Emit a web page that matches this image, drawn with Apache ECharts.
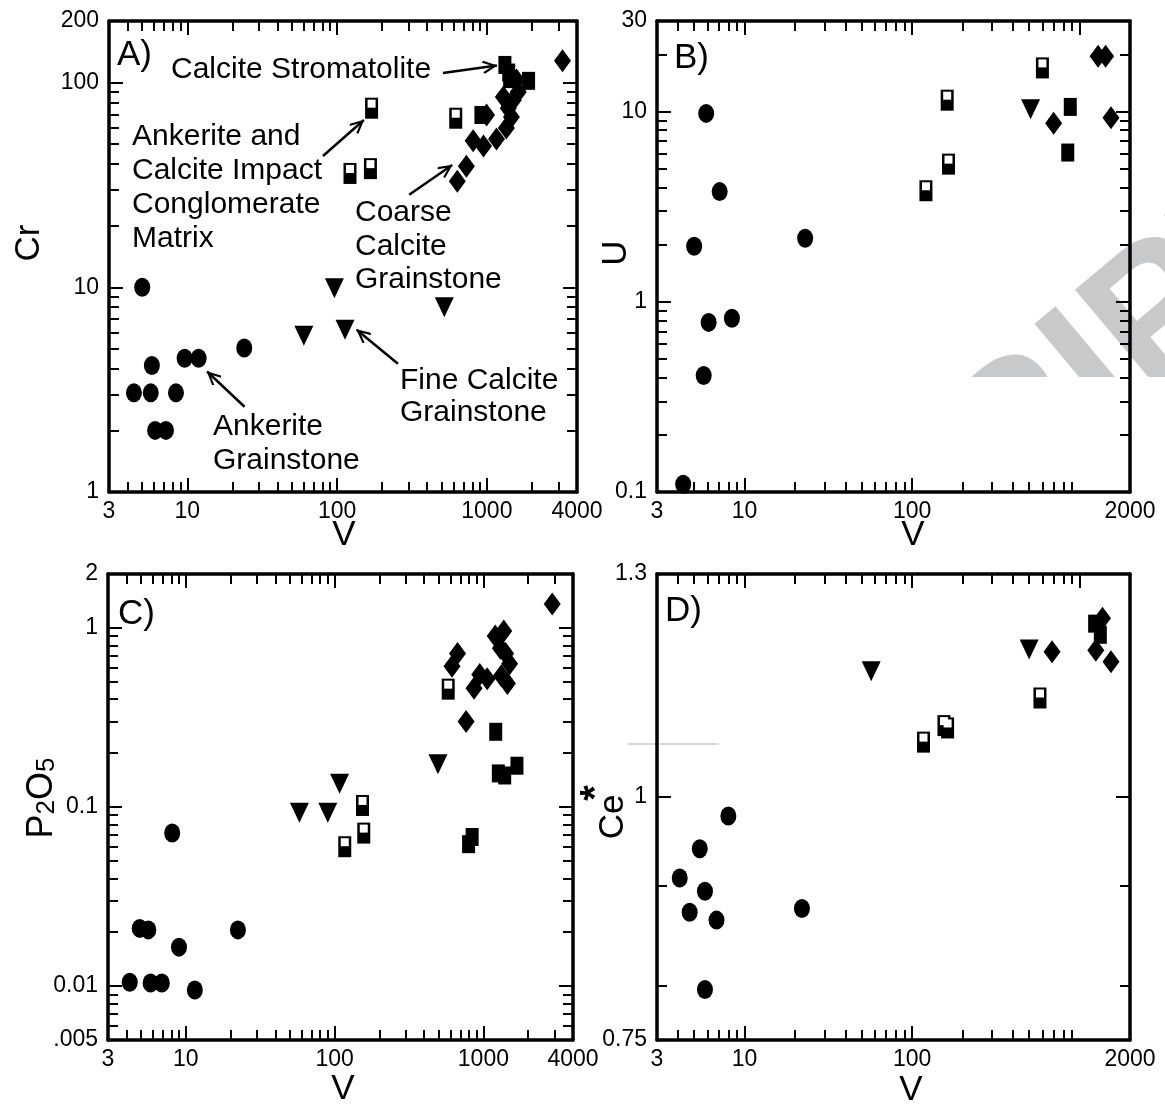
<!DOCTYPE html>
<html>
<head>
<meta charset="utf-8">
<script src="https://cdn.jsdelivr.net/npm/echarts@6.0.0/dist/echarts.min.js"></script>
<style>html,body{margin:0;padding:0;background:#fff}#c{width:1165px;height:1110px}</style>
</head>
<body>
<div id="c"></div>
<script>
// ---------------- DATA ----------------
// Panel A: Cr vs V
const A_ankerite = [[5.0,10],[4.4,3.05],[5.7,3.05],[5.8,4.15],[6.1,2.0],[7.2,2.0],[8.4,3.05],[9.6,4.5],[11.9,4.5],[24,5.05]];
const A_fine     = [[60,5.8],[96,9.9],[113,6.2],[520,8.0]];
const A_impact   = [[170,75],[122,36],[167,38],[620,67]];
const A_strom    = [[1320,122],[1400,112],[1420,104],[1900,102],[913,69.5]];
const A_coarse   = [[635,33],[730,39],[810,52],[950,49],[1160,53],[1350,60],[1460,68],[1390,75],[1500,82],[1290,85],[1620,90],[1580,103],[996,69.5],[3200,128]];
// Panel B: U vs V
const B_ankerite = [[4.3,0.11],[5.0,1.96],[5.7,0.41],[5.9,9.8],[6.1,0.78],[7.1,3.8],[8.4,0.82],[23,2.16]];
const B_fine     = [[510,10.3]];
const B_impact   = [[121,3.84],[162,11.5],[165,5.3],[600,17]];
const B_strom    = [[880,10.6],[850,6.1]];
const B_coarse   = [[700,8.7],[1290,19.6],[1430,19.6],[1540,9.3]];
// Panel C: P2O5 vs V
const C_ankerite = [[4.2,0.0105],[4.9,0.021],[5.6,0.0206],[5.8,0.0104],[6.9,0.0104],[8.1,0.0715],[9.0,0.0165],[11.5,0.0095],[22.4,0.0206]];
const C_fine     = [[58,0.093],[90,0.093],[108,0.135],[495,0.173]];
const C_impact   = [[154,0.102],[157,0.0715],[117,0.06],[580,0.455]];
const C_strom    = [[1210,0.263],[795,0.062],[840,0.068],[1260,0.154],[1390,0.15],[1680,0.17]];
const C_coarse   = [[2900,1.36],[1370,0.96],[1200,0.9],[1300,0.77],[1410,0.72],[1500,0.63],[1320,0.54],[1450,0.49],[1060,0.52],[945,0.55],[865,0.46],[765,0.3],[670,0.72],[615,0.61]];
// Panel D: Ce* vs V
const D_ankerite = [[4.1,0.908],[4.7,0.872],[5.4,0.94],[5.8,0.894],[5.8,0.796],[6.8,0.864],[8.0,0.977],[22,0.876]];
const D_fine     = [[57,1.159],[500,1.189]];
const D_impact   = [[117,1.066],[155,1.087],[163,1.084],[580,1.123]];
const D_strom    = [[1230,1.226],[1330,1.21]];
const D_coarse   = [[1370,1.234],[1250,1.188],[1540,1.172],[685,1.186]];

// Axis ranges, tick labels and tick values
const X_LABELS_4000 = [3,10,100,1000,4000];
const X_LABELS_2000 = [3,10,100,1000,2000];
const X_MAJOR = [10,100,1000];
const X_MINOR_4000 = [4,5,6,7,8,9,20,30,40,50,60,70,80,90,200,300,400,500,600,700,800,900,2000,3000];
const X_MINOR_2000 = [4,5,6,7,8,9,20,30,40,50,60,70,80,90,200,300,400,500,600,700,800,900];
const Y_LABELS_A = [1,10,100,200];
const Y_MAJOR_A = [10,100];
const Y_MINOR_A = [2,3,4,5,6,7,8,9,20,30,40,50,60,70,80,90];
const Y_LABELS_B = [0.1,1,10,30];
const Y_MAJOR_B = [1,10];
const Y_MINOR_B = [0.2,0.3,0.4,0.5,0.6,0.7,0.8,0.9,2,3,4,5,6,7,8,9,20];
const Y_LABELS_C = [0.005,0.01,0.1,1,2];
const Y_MAJOR_C = [0.01,0.1,1];
const Y_MINOR_C = [0.006,0.007,0.008,0.009,0.02,0.03,0.04,0.05,0.06,0.07,0.08,0.09,0.2,0.3,0.4,0.5,0.6,0.7,0.8,0.9];
const Y_LABELS_D = [0.75,1,1.3];
const Y_MAJOR_D = [1];
const Y_MINOR_D = [0.8,0.9];

// Arrow annotations in panel A (data coordinates: [from, to])
const A_arrows = [
  [[509,111.4],[1167,121.2]],
  [[80.5,43.8],[151,65.7]],
  [[303,28.3],[587,39.6]],
  [[24.1,2.61],[13.55,3.88]],
  [[255,4.23],[135,6.21]]
];

// ---------------- CHART ----------------
const FONT = '"Liberation Sans", Arial, Helvetica, sans-serif';
const grids = [
  {left:109, top:21, width:468, height:471},
  {left:657, top:21, width:473, height:471},
  {left:108, top:574, width:465, height:466},
  {left:657, top:574, width:473, height:466}
];

function fmt(v){
  const s = +(+v).toPrecision(6);
  if (Math.abs(s-0.005) < 1e-9) return '.005';
  return String(s);
}

const xAxes = [], yAxes = [];
function addAxes(gi, xr, yr){
  const lineOn = {show:true, onZero:false, lineStyle:{color:'#000', width:3.5}};
  const lineOff = {show:false, onZero:false};
  const lab = {show:true, color:'#000', fontSize:23, fontFamily:FONT, margin:8, showMinLabel:true, showMaxLabel:true, formatter:fmt};
  const tk = (vals,len)=>({show:true, inside:true, length:len, lineStyle:{color:'#000', width:2}, customValues:vals});
  const base = (r)=>({gridIndex:gi, type:'log', logBase:10, min:r.min, max:r.max, splitLine:{show:false}, minorTick:{show:false}, minorSplitLine:{show:false}, silent:true});
  [['bottom',true],['top',false]].forEach(([pos,showLab])=>{
    xAxes.push(Object.assign(base(xr), {position:pos, axisLine:lineOn, axisTick:tk(X_MAJOR,14),
      axisLabel: showLab ? Object.assign({}, lab, {customValues:xr.labels}) : {show:false}}));
    xAxes.push(Object.assign(base(xr), {position:pos, axisLine:lineOff, axisTick:tk(xr.minor,10), axisLabel:{show:false}}));
  });
  [['left',true],['right',false]].forEach(([pos,showLab])=>{
    yAxes.push(Object.assign(base(yr), {position:pos, axisLine:lineOn, axisTick:tk(yr.major,14),
      axisLabel: showLab ? Object.assign({}, lab, {customValues:yr.labels, margin:10}) : {show:false}}));
    yAxes.push(Object.assign(base(yr), {position:pos, axisLine:lineOff, axisTick:tk(yr.minor,10), axisLabel:{show:false}}));
  });
}
addAxes(0, {min:3,max:4000,labels:X_LABELS_4000,minor:X_MINOR_4000}, {min:1,max:200,labels:Y_LABELS_A,major:Y_MAJOR_A,minor:Y_MINOR_A});
addAxes(1, {min:3,max:2000,labels:X_LABELS_2000,minor:X_MINOR_2000}, {min:0.1,max:30,labels:Y_LABELS_B,major:Y_MAJOR_B,minor:Y_MINOR_B});
addAxes(2, {min:3,max:4000,labels:X_LABELS_4000,minor:X_MINOR_4000}, {min:0.005,max:2,labels:Y_LABELS_C,major:Y_MAJOR_C,minor:Y_MINOR_C});
addAxes(3, {min:3,max:2000,labels:X_LABELS_2000,minor:X_MINOR_2000}, {min:0.75,max:1.3,labels:Y_LABELS_D,major:Y_MAJOR_D,minor:Y_MINOR_D});

const series = [];
function sc(gi, data, symbol, size, extra){
  series.push(Object.assign({type:'scatter', xAxisIndex:gi*4, yAxisIndex:gi*4, data:data, symbol:symbol, symbolSize:size,
    itemStyle:{color:'#000', opacity:1, borderWidth:0}, silent:true, animation:false, z:3, emphasis:{disabled:true}}, extra||{}));
}
const panels = [
  [A_ankerite, A_fine, A_impact, A_strom, A_coarse],
  [B_ankerite, B_fine, B_impact, B_strom, B_coarse],
  [C_ankerite, C_fine, C_impact, C_strom, C_coarse],
  [D_ankerite, D_fine, D_impact, D_strom, D_coarse]
];
panels.forEach((p, gi)=>{
  sc(gi, p[0], 'circle', [16,19]);
  sc(gi, p[1], 'triangle', [19,20], {symbolRotate:180});
  sc(gi, p[3], 'rect', [13,18]);
  sc(gi, p[4], 'diamond', [17,23]);
  sc(gi, p[2], 'rect', [13,21], {z:4});
  sc(gi, p[2], 'rect', [8,8], {z:5, symbolOffset:[0,-4.5], itemStyle:{color:'#fff', opacity:1}});
});
// arrows (panel A)
series[0].markLine = {
  silent:true, animation:false,
  symbol:['none','path://M10,0 L20,17 L17.5,19 L10,6 L2.5,19 L0,17 Z'],
  symbolSize:[13,15],
  symbolOffset:[[0,0],[0,7]],
  lineStyle:{color:'#000', width:2.5, type:'solid'},
  label:{show:false},
  emphasis:{disabled:true},
  data: A_arrows.map(a=>[{coord:a[0]},{coord:a[1]}])
};

// text annotations
const ANNOT = 30;
const textItems = [
  ['Calcite Stromatolite',171,70],
  ['Ankerite and',132,137],['Calcite Impact',132,171],['Conglomerate',132,205],['Matrix',132,239],
  ['Coarse',355,213],['Calcite',355,247],['Grainstone',355,280],
  ['Ankerite',213,427],['Grainstone',213,461],
  ['Fine Calcite',400,381],['Grainstone',400,413]
];
const graphic = [];
textItems.forEach(t=>graphic.push({type:'text', x:t[1], y:t[2], silent:true,
  style:{text:t[0], fill:'#000', fontSize:ANNOT, fontFamily:FONT, align:'left', verticalAlign:'middle'}}));
[['A)',117,55],['B)',674,58],['C)',118,614],['D)',665,611]].forEach(t=>graphic.push({type:'text', x:t[1], y:t[2], silent:true,
  style:{text:t[0], fill:'#000', fontSize:35, fontFamily:FONT, align:'left', verticalAlign:'middle'}}));
// axis titles
[['V',344,535],['V',913,535],['V',343,1089],['V',911,1090]].forEach(t=>graphic.push({type:'text', x:t[1], y:t[2], silent:true,
  style:{text:t[0], fill:'#000', fontSize:35, fontFamily:FONT, align:'center', verticalAlign:'middle'}}));
[['Cr',29,243],['U',616,253],['Ce',613,817]].forEach(t=>graphic.push({type:'text', x:t[1], y:t[2], rotation:Math.PI/2, silent:true,
  style:{text:t[0], fill:'#000', fontSize:35, fontFamily:FONT, align:'center', verticalAlign:'middle'}}));
graphic.push({type:'text', x:597, y:793, rotation:Math.PI/2, silent:true,
  style:{text:'*', fill:'#000', fontSize:40, fontWeight:'bold', fontFamily:FONT, align:'center', verticalAlign:'middle'}});
graphic.push({type:'text', x:42, y:798, rotation:Math.PI/2, silent:true,
  style:{text:'{a|P}{b|2}{a|O}{b|5}', fill:'#000', fontFamily:FONT, align:'center', verticalAlign:'middle',
    rich:{a:{fontSize:36, fontFamily:FONT, fill:'#000'}, b:{fontSize:26, fontFamily:FONT, fill:'#000', verticalAlign:'bottom'}}}});
// faint grey rule left of panel D (artifact in reference)
graphic.push({type:'line', z:-10, silent:true, shape:{x1:628,y1:744,x2:719,y2:744}, style:{stroke:'#c8c8c8', lineWidth:1.5}});
// partial "…RIPT" watermark behind panel B, cut off along a horizontal edge
graphic.push({type:'text', x:970, y:480, rotation:40*Math.PI/180, z:-10, silent:true,
  style:{text:'RIPT', fill:'#c8c9ca', fontSize:190, fontWeight:'bold', fontFamily:FONT, align:'left', verticalAlign:'middle'}});
graphic.push({type:'rect', z:-9, silent:true, shape:{x:860, y:377, width:320, height:200}, style:{fill:'#fff'}});

const chart = echarts.init(document.getElementById('c'), null, {renderer:'canvas'});
chart.setOption({
  backgroundColor:'#fff',
  animation:false,
  grid: grids.map(g=>Object.assign({containLabel:false, outerBoundsMode:'none'}, g)),
  xAxis: xAxes,
  yAxis: yAxes,
  series: series,
  graphic: graphic
});
</script>
</body>
</html>
